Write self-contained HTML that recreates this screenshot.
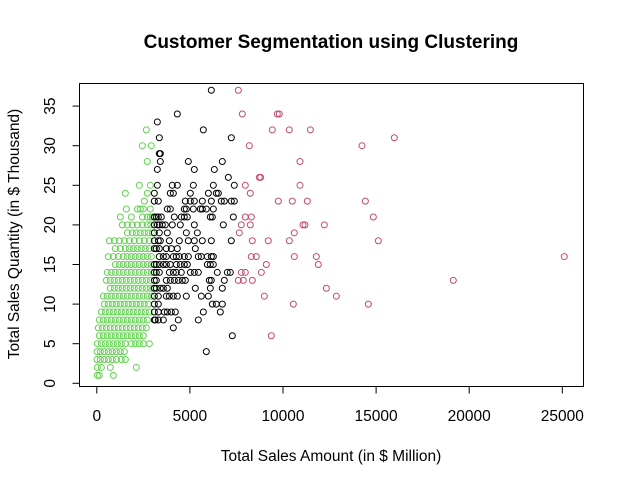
<!DOCTYPE html>
<html><head><meta charset="utf-8"><style>
html,body{margin:0;padding:0;background:#fff;}
svg{display:block;font-family:"Liberation Sans",Arial,sans-serif;}
</style></head><body>
<svg id="chart" width="623" height="485" viewBox="0 0 623 485" xmlns="http://www.w3.org/2000/svg">
<rect x="0" y="0" width="623" height="485" fill="#fff"/>
<text x="331" y="48" text-anchor="middle" font-size="19" font-weight="bold">Customer Segmentation using Clustering</text>
<text x="331" y="461" text-anchor="middle" font-size="15.5">Total Sales Amount (in $ Million)</text>
<text x="0" y="0" transform="translate(19,234) rotate(-90)" text-anchor="middle" font-size="15.5">Total Sales Quantity (in $ Thousand)</text>
<rect x="79.5" y="83.5" width="504" height="303" fill="none" stroke="#000" stroke-width="1"/>
<g id="axes"></g>
<g id="points"></g>
</svg>
<script>
const xTicks = [0, 5000, 10000, 15000, 20000, 25000];
const yTicks = [0, 5, 10, 15, 20, 25, 30, 35];

const redX = [11468,15979,14242,10913,10913,11307,14421,14851,11074,11181,12220,15120,11790,11897,25108,19147,12327,12864,14583,
  7600,7815,9694,9802,9426,10339,8191,8728,8800,7976,8245,9748,10500,7976,8298,7761,8245,7654,10607,8352,9211,10339,8298,8567,10607,9104,7761,7976,8836,7600,7869,8352,8996,10554,9372];
const redY = [32,31,30,28,25,23,23,21,20,20,20,18,16,15,16,13,12,11,10,
  37,34,34,34,32,32,30,26,26,25,24,23,23,21,21,20,20,19,19,18,18,18,16,16,16,15,14,14,14,13,13,13,11,10,6];

const blackYRows = [37,34,33,32,31,29,28,27,26,25,24,23,22,21,20,19,18,17,16,15,14,13,12,11,10,9,8,7,6,4];
const blackXRows = [
 [6151],[4325],[3251],[5721],[3358,7224],[3411,3358],[3411,4915,6741],[3251,5237,6311],[7063],
 [3251,4056,4325,5184,6258,7385],
 [3089,3948,4110,5023,5990,6419,6526],
 [3089,3304,4754,5023,5237,5667,6151,6687,6848,7224,7385],
 [3788,3948,4700,4808,5184,5560,5667,5882,6258],
 [3089,3197,3304,3465,4163,4539,4700,4862,6097,6204,7332],
 [3089,3251,3358,3519,3680,4056,4486,5237,6795],
 [3089,3358,3788,4808,5399],
 [3089,3304,3411,3895,4432,4915,5237,5667,6151,7224],
 [3089,3197,3358,3734,4002,4325,5291],
 [3358,3573,3734,4110,4271,4432,4700,4915,5452,5613,5936,6151,6258],
 [3089,3197,3358,3573,3734,3948,4271,4486,4700,4862,5936,6097,6258],
 [3089,3197,3358,3895,4110,4271,4539,5023,5237,5452,6472,7010,7171],
 [3089,3197,3734,3948,4163,4378,4593,4754,6043,6151,6848],
 [3089,3197,3411,3573,3788,5291,6097,6741],
 [3089,3304,3734,3895,4110,4325,4808,5613,5990],
 [3089,3304,6204,6419,6741],
 [3089,3304,3626,3788,4002,4217,5721,6634],
 [3089,3143,3304,3573,4378,5452],
 [4110],[7278],[5882]
];

const greenYRows = [32,30,28,25,24,23,22,21,20,19,18,17,16,15,14,13,12,11,10,9,8,7,6,5,4,3,2,1];
const greenXRows = [
 [2660],[2445,2928],[2714],[2284,2875],[1532,2714],[2552],
 [1586,2177,2338,2499,2875],
 [1264,1854,2445,2714,2875,2982],
 [1371,1640,1908,2177,2445,2714,2893],
 [1640,1908,2123,2338,2553,2767,2982],
 [673,942,1210,1478,1747,2015,2284,2552,2821],
 [995,1264,1532,1747,1962,2177,2391,2606,2821],
 [619,888,1156,1425,1640,1855,2070,2284,2499,2714,2928],
 [995,1210,1425,1640,1854,2069,2284,2499,2714,2928],
 [566,780,995,1210,1425,1640,1854,2069,2284,2499,2714,2928],
 [512,727,941,1156,1371,1586,1801,2015,2230,2445,2660,2875],
 [727,941,1156,1371,1586,1801,2015,2230,2445,2660,2875,3050],
 [351,566,780,995,1210,1425,1640,1854,2069,2284,2499,2714,2928],
 [404,619,834,1049,1264,1478,1693,1908,2123,2338,2552,2767],
 [243,458,673,888,1103,1317,1532,1747,1962,2177,2391,2606,2821],
 [136,351,566,780,995,1210,1425,1640,1854,2069,2284,2499,2714],
 [82,297,512,727,941,1156,1371,1586,1801,2015,2230,2445,2660],
 [136,351,566,780,995,1210,1425,1640,1854,2069,2284,2499],
 [29,243,458,673,888,1103,1317,1532,1854,2069,2284,2499,2821],
 [10,190,404,619,834,1049,1264,1478],
 [10,190,404,619,834,1049,1317,1532],
 [29,243,727,2123],
 [29,136,888]
];

const NS = "http://www.w3.org/2000/svg";
const X0 = 96.8, XS = 0.01862, Y0 = 383.3, YS = 7.92;
function sx(v){ return X0 + v * XS; }
function sy(v){ return Y0 - v * YS; }
const axes = document.getElementById('axes');
const pts = document.getElementById('points');
function mk(tag, attrs, parent){
  const e = document.createElementNS(NS, tag);
  for (const k in attrs) e.setAttribute(k, attrs[k]);
  parent.appendChild(e);
  return e;
}
mk('line',{x1:sx(xTicks[0]),x2:sx(xTicks[xTicks.length-1]),y1:386.5,y2:386.5,stroke:'#000'},axes);
xTicks.forEach(t=>{
  const l = mk('line',{x1:sx(t),x2:sx(t),y1:386.5,y2:393.5,stroke:'#000'},axes);
  
  
  const tx = mk('text',{x:sx(t),y:421,'text-anchor':'middle','font-size':'15.5'},axes);
  tx.textContent = t;
  
  
});
mk('line',{x1:79.5,x2:79.5,y1:sy(yTicks[0]),y2:sy(yTicks[yTicks.length-1]),stroke:'#000'},axes);
yTicks.forEach(t=>{
  const l = mk('line',{x1:72.5,x2:79.5,y1:sy(t),y2:sy(t),stroke:'#000'},axes);
  
  
  const tx = mk('text',{x:0,y:0,transform:'translate(55,'+sy(t)+') rotate(-90)','text-anchor':'middle','font-size':'15.5'},axes);
  tx.textContent = t;
  
  
});
function dot(x, y, color, name){
  const c = mk('circle',{cx:sx(x),cy:sy(y),r:3,fill:'none',stroke:color,'stroke-width':1},pts);
  
  
}
greenYRows.forEach((y,i)=>greenXRows[i].forEach(x=>dot(x,y,'#61D04F','point-cluster-green')));
blackYRows.forEach((y,i)=>blackXRows[i].forEach(x=>dot(x,y,'#000000','point-cluster-black')));
redX.forEach((x,i)=>dot(x,redY[i],'#C24B6C','point-cluster-red'));
</script>
</body></html>
